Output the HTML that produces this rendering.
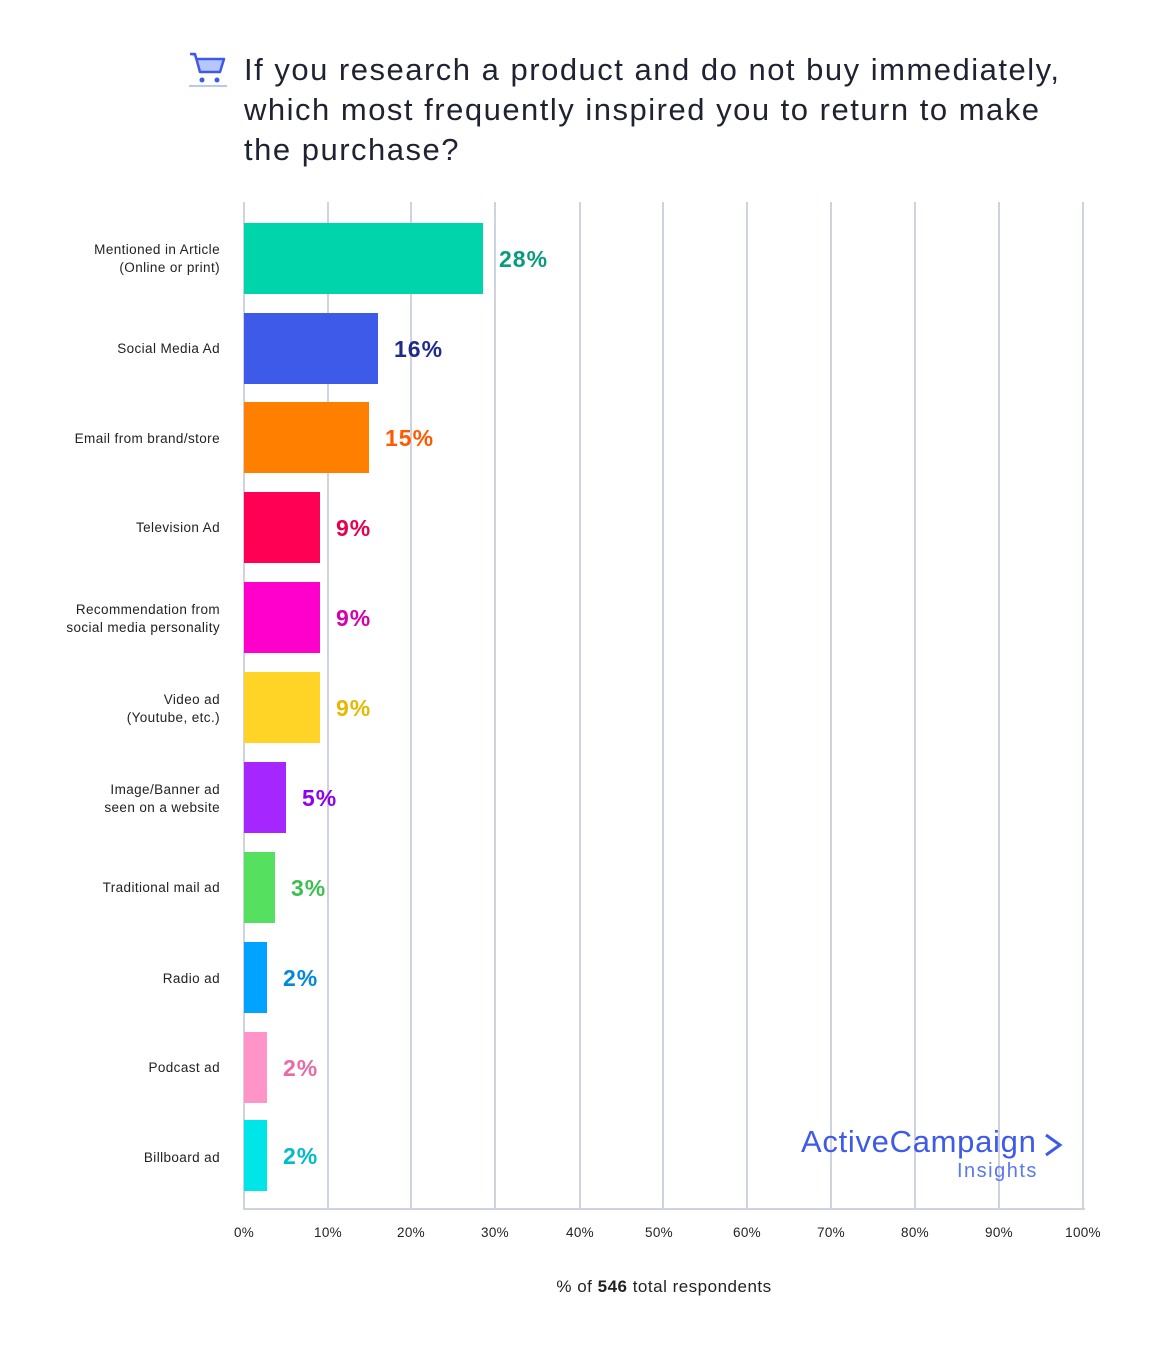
<!DOCTYPE html>
<html><head><meta charset="utf-8"><style>
body{margin:0;background:#fff;width:1171px;height:1369px;position:relative;font-family:"Liberation Sans",sans-serif;overflow:hidden}
.t{position:absolute;left:244px;top:50px;font-size:31px;line-height:40px;color:#1f2230;letter-spacing:1.5px;white-space:nowrap}
.g{position:absolute;top:202px;height:1008px;width:2px;background:#cfd3e0}
.ax{position:absolute;left:244px;top:1208px;width:841px;height:2px;background:#cfd3e0}
.b{position:absolute;left:244px;height:71px}
.l{position:absolute;right:951px;font-size:13.5px;line-height:18px;text-align:right;color:#222;letter-spacing:0.4px;white-space:nowrap}
.v{position:absolute;font-size:23px;font-weight:bold;letter-spacing:1px}
.tk{position:absolute;top:1225px;font-size:13.5px;color:#222;transform:translateX(-50%);letter-spacing:0.3px}
</style></head><body>
<svg style="position:absolute;left:189px;top:52px" width="38" height="36" viewBox="0 0 38 36">
<path d="M1 2h5l5 18h20l4-13H8" fill="#b7c6fb" stroke="#3d5ae8" stroke-width="2.5" stroke-linejoin="round"/>
<circle cx="13" cy="28" r="2.5" fill="#3d5ae8"/><circle cx="28" cy="28" r="2.5" fill="#3d5ae8"/>
<rect x="0" y="33" width="38" height="2" fill="#b7c6fb"/></svg>
<div class="t">If you research a product and do not buy immediately,<br>which most frequently inspired you to return to make<br>the purchase?</div>
<div class="g" style="left:243px"></div><div class="g" style="left:327px"></div><div class="g" style="left:410px"></div><div class="g" style="left:494px"></div><div class="g" style="left:579px"></div><div class="g" style="left:662px"></div><div class="g" style="left:746px"></div><div class="g" style="left:830px"></div><div class="g" style="left:914px"></div><div class="g" style="left:998px"></div><div class="g" style="left:1082px"></div>
<div class="ax"></div>
<div class="b" style="top:223px;width:239px;background:#00d4aa"></div>
<div class="b" style="top:313px;width:134px;background:#3d5ae8"></div>
<div class="b" style="top:402px;width:125px;background:#ff8000"></div>
<div class="b" style="top:492px;width:76px;background:#ff0055"></div>
<div class="b" style="top:582px;width:76px;background:#ff00cc"></div>
<div class="b" style="top:672px;width:76px;background:#ffd426"></div>
<div class="b" style="top:762px;width:42px;background:#a526ff"></div>
<div class="b" style="top:852px;width:31px;background:#55e060"></div>
<div class="b" style="top:942px;width:23px;background:#00a3ff"></div>
<div class="b" style="top:1032px;width:23px;background:#ff94c9"></div>
<div class="b" style="top:1120px;width:23px;background:#00e5e8"></div>
<div class="l" style="top:241px">Mentioned in Article<br>(Online or print)</div>
<div class="l" style="top:340px">Social Media Ad</div>
<div class="l" style="top:430px">Email from brand/store</div>
<div class="l" style="top:519px">Television Ad</div>
<div class="l" style="top:601px">Recommendation from<br>social media personality</div>
<div class="l" style="top:691px">Video ad<br>(Youtube, etc.)</div>
<div class="l" style="top:781px">Image/Banner ad<br>seen on a website</div>
<div class="l" style="top:879px">Traditional mail ad</div>
<div class="l" style="top:970px">Radio ad</div>
<div class="l" style="top:1059px">Podcast ad</div>
<div class="l" style="top:1149px">Billboard ad</div>
<div class="v" style="left:499px;top:246px;color:#0a9b7e">28%</div>
<div class="v" style="left:394px;top:336px;color:#1f2a8c">16%</div>
<div class="v" style="left:385px;top:425px;color:#ff5a00">15%</div>
<div class="v" style="left:336px;top:515px;color:#e8004d">9%</div>
<div class="v" style="left:336px;top:605px;color:#d600a8">9%</div>
<div class="v" style="left:336px;top:695px;color:#e6b800">9%</div>
<div class="v" style="left:302px;top:785px;color:#8f00ee">5%</div>
<div class="v" style="left:291px;top:875px;color:#3cbf50">3%</div>
<div class="v" style="left:283px;top:965px;color:#0088dd">2%</div>
<div class="v" style="left:283px;top:1055px;color:#e86aa6">2%</div>
<div class="v" style="left:283px;top:1143px;color:#00bcc8">2%</div>
<div class="tk" style="left:244px">0%</div><div class="tk" style="left:328px">10%</div><div class="tk" style="left:411px">20%</div><div class="tk" style="left:495px">30%</div><div class="tk" style="left:580px">40%</div><div class="tk" style="left:659px">50%</div><div class="tk" style="left:747px">60%</div><div class="tk" style="left:831px">70%</div><div class="tk" style="left:915px">80%</div><div class="tk" style="left:999px">90%</div><div class="tk" style="left:1083px">100%</div>
<div style="position:absolute;left:0;width:1328px;top:1277px;text-align:center;font-size:17px;letter-spacing:0.5px;color:#222">% of <b>546</b> total respondents</div>
<div style="position:absolute;left:801px;top:1124px;font-size:31px;color:#3d5ae8;letter-spacing:0.7px;white-space:nowrap">ActiveCampaign</div>
<svg style="position:absolute;left:1043px;top:1133px" width="20" height="24"><path d="M3 2l14 10-14 10" fill="none" stroke="#3d5ae8" stroke-width="3"/></svg>
<div style="position:absolute;left:957px;top:1160px;font-size:20px;color:#5a78f0;letter-spacing:1.5px">Insights</div>
</body></html>
